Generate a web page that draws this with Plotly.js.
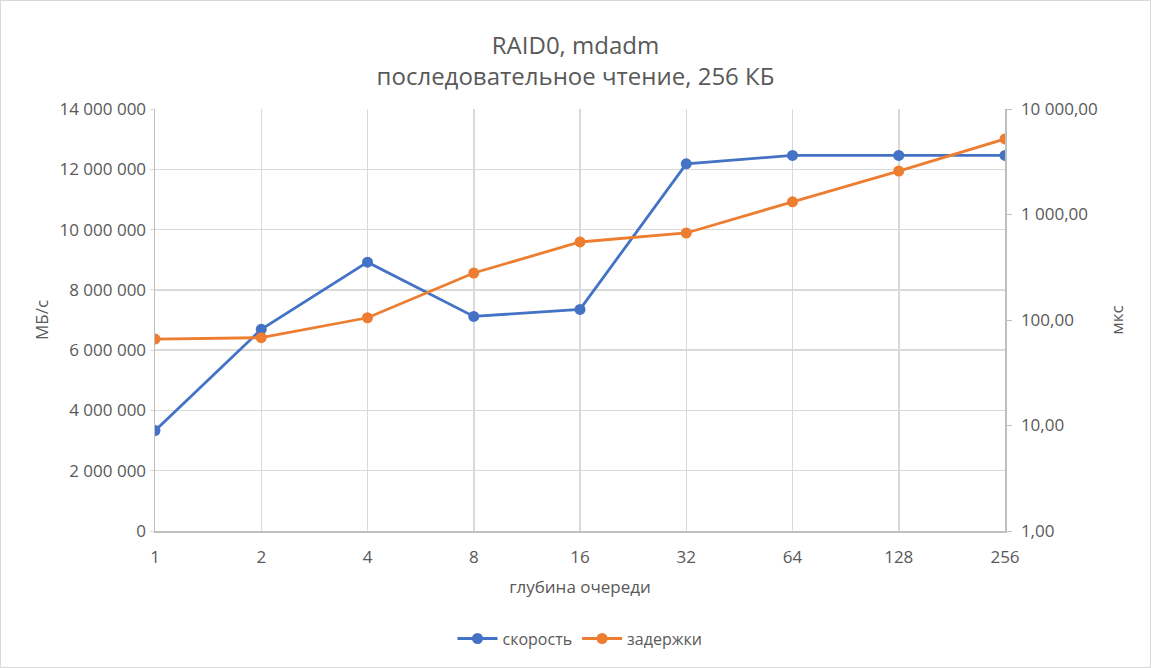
<!DOCTYPE html>
<html>
<head>
<meta charset="utf-8">
<script src="https://cdn.plot.ly/plotly-3.0.1.min.js"></script>
<style>
  html, body { margin: 0; padding: 0; background: #fff; }
  #chart { width: 1149px; height: 666px; border: 1px solid #d9d9d9; }
</style>
</head>
<body>
<div id="chart"></div>
<script>
/* RAID0 / mdadm sequential read, 256 KB: throughput (left, linear) vs latency (right, log). */
var queueDepth = ["1", "2", "4", "8", "16", "32", "64", "128", "256"];
var speed = [3330000, 6690000, 8920000, 7120000, 7350000, 12180000, 12460000, 12460000, 12460000];
var latency = [66, 68, 105, 279, 549, 668, 1318, 2580, 5200];

var leftTicks = [0, 2000000, 4000000, 6000000, 8000000, 10000000, 12000000, 14000000];
var leftLabels = ["0", "2 000 000", "4 000 000", "6 000 000", "8 000 000", "10 000 000", "12 000 000", "14 000 000"];
var rightTicks = [1, 10, 100, 1000, 10000];
var rightLabels = ["1,00", "10,00", "100,00", "1 000,00", "10 000,00"];

var ink = "#595959";
var grid = "#d9d9d9";
var axisLine = "#bfbfbf";
var blue = "#4472c4";
var orange = "#ed7d31";
var font = "Open Sans, Noto Sans, sans-serif";

var traces = [
  {
    x: queueDepth, y: speed, name: "скорость", type: "scatter", mode: "lines+markers",
    line: { color: blue, width: 2.8 }, marker: { color: blue, size: 11 }, yaxis: "y",
  },
  {
    x: queueDepth, y: latency, name: "задержки", type: "scatter", mode: "lines+markers",
    line: { color: orange, width: 2.8 }, marker: { color: orange, size: 11 }, yaxis: "y2",
  },
];

var layout = {
  width: 1149, height: 666,
  margin: { l: 154, r: 145, t: 108, b: 136, autoexpand: false },
  paper_bgcolor: "#fff", plot_bgcolor: "#fff",
  font: { family: font, color: ink, size: 16 },
  title: {
    text: "RAID0, mdadm<br>последовательное чтение, 256 КБ",
    font: { size: 24, color: ink }, x: 0.5, xanchor: "center",
    yref: "container", y: 0.921, yanchor: "middle",
  },
  xaxis: {
    type: "category", range: [0, 8], showgrid: true, gridcolor: grid, gridwidth: 1.5,
    showline: true, linecolor: axisLine, linewidth: 1.5, ticks: "", zeroline: false,
    tickfont: { size: 17, color: ink }, ticklabelstandoff: 10,
    title: { text: "глубина очереди", font: { size: 17, color: ink }, standoff: 14 },
  },
  yaxis: {
    range: [0, 14000000], tickvals: leftTicks, ticktext: leftLabels,
    showgrid: true, gridcolor: grid, gridwidth: 1.5, zeroline: false,
    showline: true, linecolor: axisLine, linewidth: 1.5, ticks: "outside", ticklen: 4, tickcolor: grid,
    tickfont: { size: 17, color: ink },
    title: { text: "МБ/с", font: { size: 17, color: ink }, standoff: 6 },
  },
  yaxis2: {
    type: "log", range: [0, 4], overlaying: "y", side: "right",
    tickvals: rightTicks, ticktext: rightLabels, showgrid: false, zeroline: false,
    showline: true, linecolor: axisLine, linewidth: 1.5, ticks: "outside", ticklen: 5, tickcolor: axisLine,
    tickfont: { size: 17, color: ink }, ticklabelstandoff: 6,
    title: { text: "мкс", font: { size: 17, color: ink }, standoff: 14 },
  },
  showlegend: true,
  legend: {
    orientation: "h", x: 0.5, xanchor: "center", y: -0.255, yanchor: "middle",
    font: { size: 16, color: ink }, itemwidth: 40,
  },
};

Plotly.newPlot("chart", traces, layout, { displayModeBar: false, staticPlot: true });
</script>
</body>
</html>
